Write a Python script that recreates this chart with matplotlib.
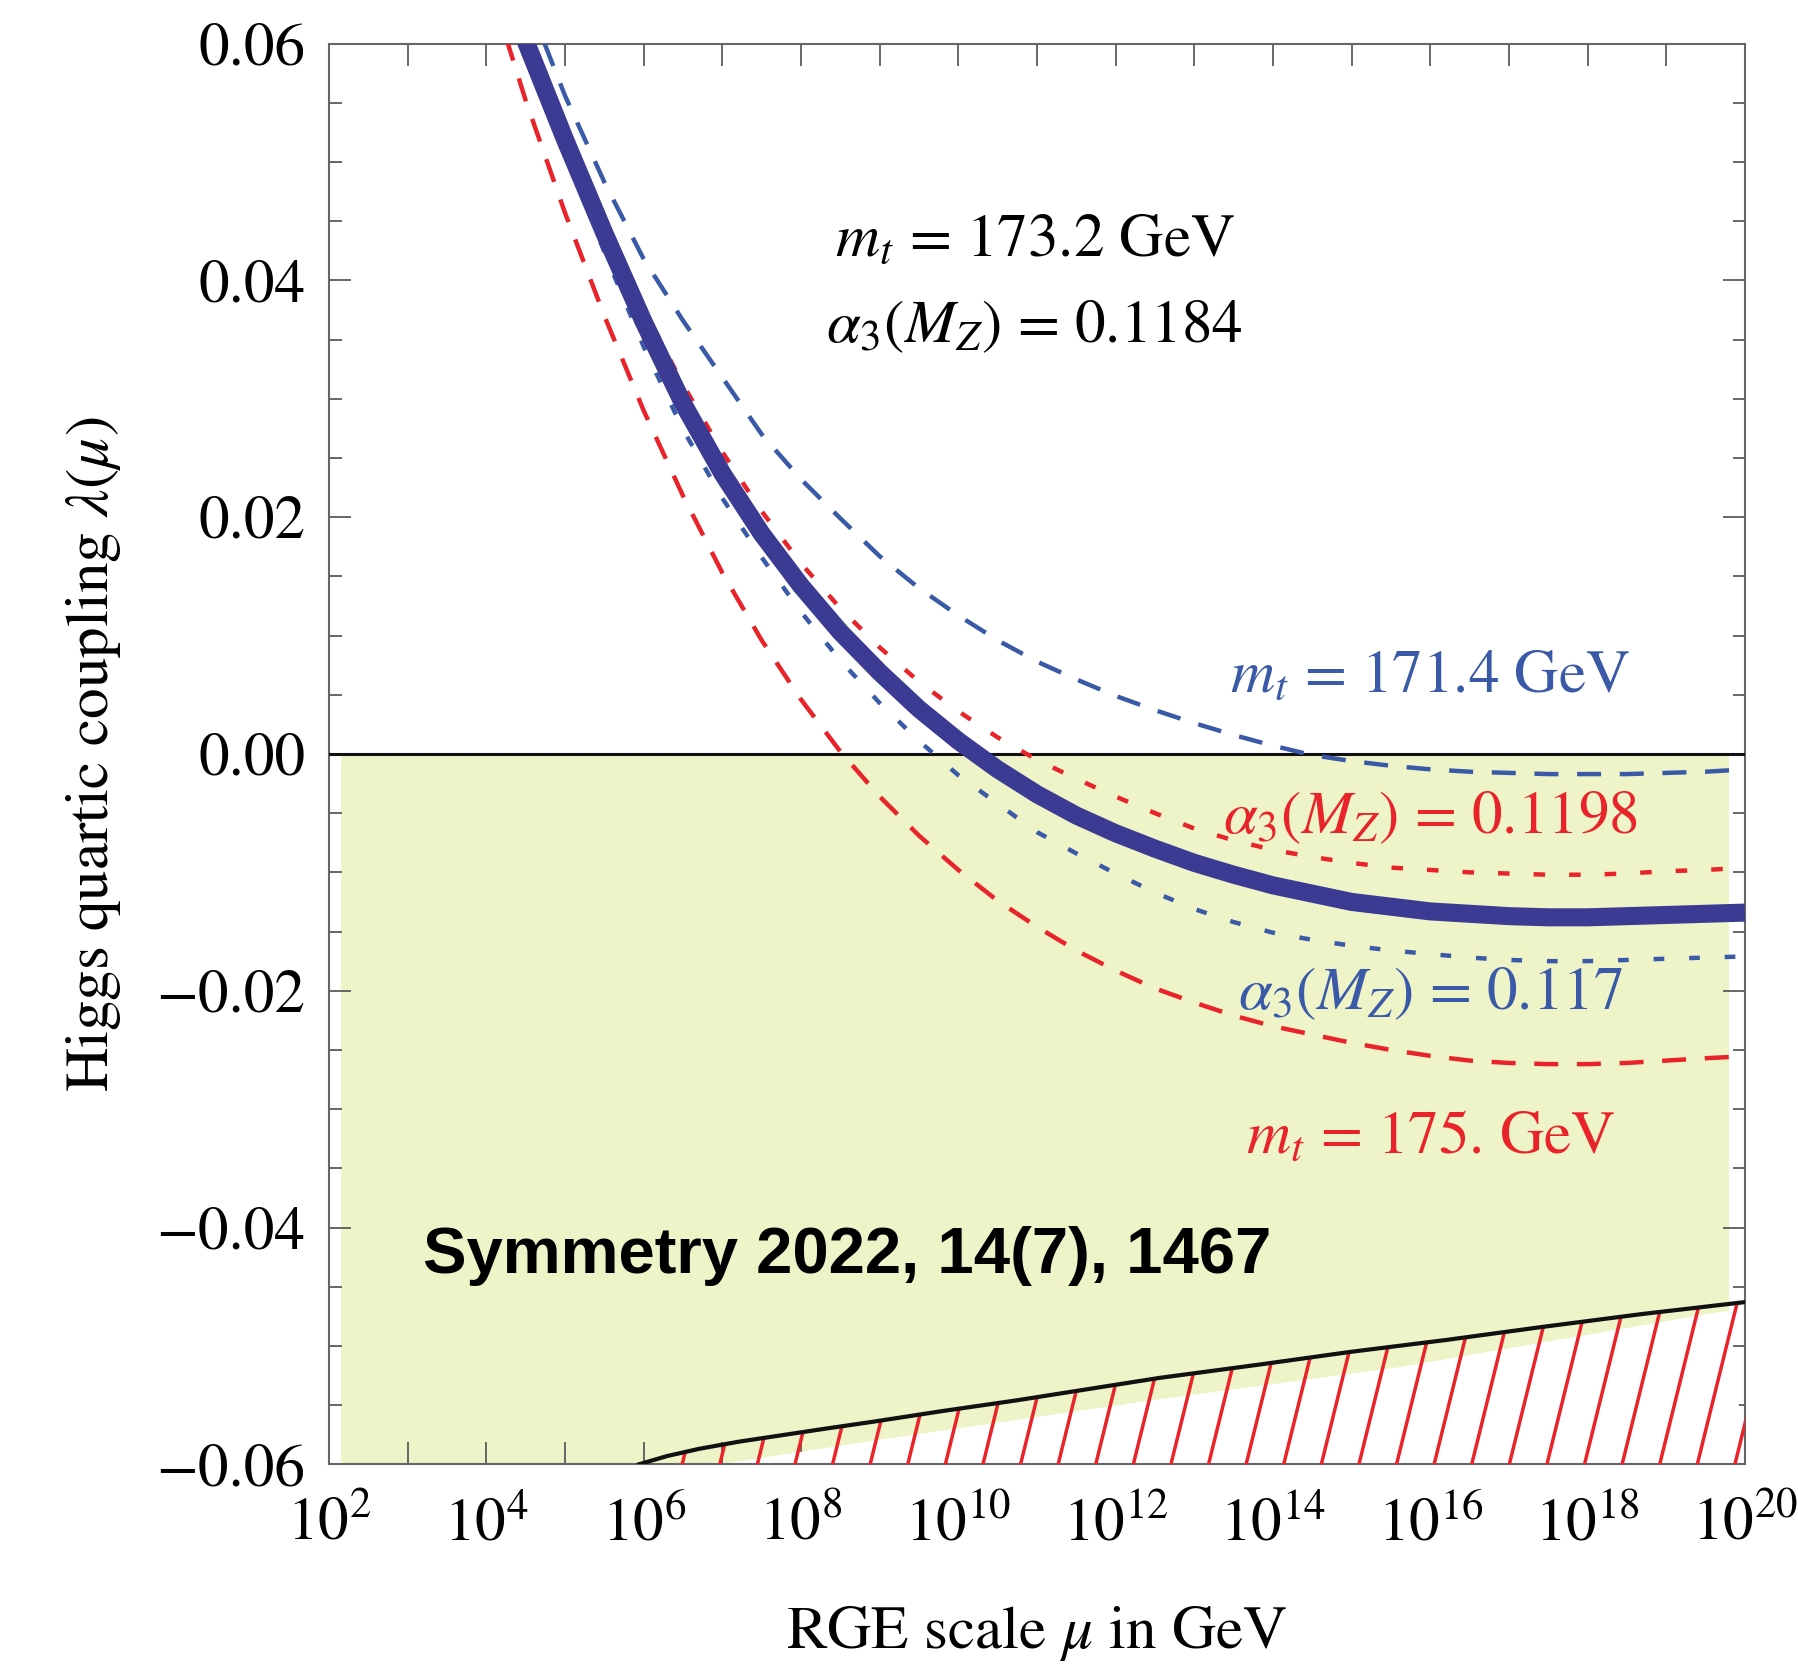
import numpy as np
import matplotlib
matplotlib.use('Agg')
import matplotlib.pyplot as plt
from matplotlib.patches import Polygon
from matplotlib.collections import LineCollection
from matplotlib.ticker import FixedLocator, FixedFormatter

plt.rcParams['font.family'] = ['STIXGeneral', 'DejaVu Serif']
plt.rcParams['mathtext.fontset'] = 'stix'

# lambda(mu) runs, x given as log10(mu / GeV)
central_logmu = [4.5, 5.0, 5.5, 6.0, 6.5, 7.0, 7.5, 8.0, 8.5, 9.0, 9.5, 10.0, 10.5, 11.0, 11.5, 12.0,
                 12.5, 13.0, 13.5, 14.0, 14.5, 15.0, 15.5, 16.0, 16.5, 17.0, 17.5, 18.0, 18.5, 19.0, 19.5, 20.0]
central_lam = [0.0602, 0.0519, 0.0440, 0.0365, 0.0296, 0.0237, 0.0186, 0.0142, 0.0103, 0.0069, 0.0038, 0.0011,
               -0.0013, -0.0034, -0.0052, -0.0067, -0.0080, -0.0092, -0.0102, -0.0111, -0.0118, -0.0125,
               -0.0129, -0.0133, -0.0135, -0.0137, -0.0138, -0.0138, -0.0137, -0.0136, -0.0135, -0.0134]

mt_low_logmu = [4.74, 5.0, 5.5, 6.0, 6.5, 7.0, 7.5, 8.0, 8.5, 9.0, 9.5, 10.0, 10.5, 11.0, 11.5, 12.0, 12.5,
                13.0, 13.5, 14.0, 14.5, 15.0, 15.5, 16.0, 16.5, 17.0, 17.5, 18.0, 18.5, 19.0, 19.5, 20.0]
mt_low_lam = [0.0600, 0.0556, 0.0483, 0.0418, 0.0366, 0.0318, 0.0270, 0.0232, 0.0199, 0.0167, 0.0140, 0.0117,
              0.0096, 0.0078, 0.0063, 0.0049, 0.0037, 0.0026, 0.0016, 0.0007, -0.0001, -0.0006, -0.0010,
              -0.0013, -0.0015, -0.0016, -0.0017, -0.0017, -0.0017, -0.0016, -0.0015, -0.0013]

mt_high_logmu = [4.25, 4.5, 5.0, 5.5, 6.0, 6.5, 7.0, 7.5, 8.0, 8.5, 9.0, 9.5, 10.0, 10.5, 11.0, 11.5, 12.0,
                 12.5, 13.0, 13.5, 14.0, 14.5, 15.0, 15.5, 16.0, 16.5, 17.0, 17.5, 18.0, 18.5, 19.0, 19.5, 19.8]
mt_high_lam = [0.0605, 0.0552, 0.0457, 0.0370, 0.0290, 0.0218, 0.0153, 0.0096, 0.0046, 0.0002, -0.0036,
               -0.0069, -0.0098, -0.0124, -0.0146, -0.0166, -0.0183, -0.0198, -0.0210, -0.0221, -0.0230,
               -0.0237, -0.0244, -0.0250, -0.0255, -0.0259, -0.0261, -0.0262, -0.0262, -0.0261, -0.0259,
               -0.0257, -0.0256]

as_high_logmu = [4.5, 5.0, 5.5, 6.0, 6.5, 7.0, 7.5, 8.0, 8.5, 9.0, 9.5, 10.0, 10.5, 11.0, 11.5, 12.0, 12.5,
                 13.0, 13.5, 14.0, 14.5, 15.0, 15.5, 16.0, 16.5, 17.0, 17.5, 18.0, 18.5, 19.0, 19.5, 20.0]
as_high_lam = [0.0607, 0.0524, 0.0447, 0.0376, 0.0312, 0.0255, 0.0205, 0.0161, 0.0123, 0.0090, 0.0061, 0.0036,
               0.0014, -0.0005, -0.0021, -0.0036, -0.0050, -0.0063, -0.0073, -0.0081, -0.0087, -0.0092,
               -0.0096, -0.0098, -0.0100, -0.0101, -0.0102, -0.0102, -0.0101, -0.0099, -0.0098, -0.0096]

as_low_logmu = [4.45, 5.0, 5.5, 6.0, 6.5, 7.0, 7.5, 8.0, 8.5, 9.0, 9.5, 10.0, 10.5, 11.0, 11.5, 12.0, 12.5,
                13.0, 13.5, 14.0, 14.5, 15.0, 15.5, 16.0, 16.5, 17.0, 17.5, 18.0, 18.5, 19.0, 19.5, 20.0]
as_low_lam = [0.0600, 0.0509, 0.0424, 0.0344, 0.0274, 0.0216, 0.0166, 0.0120, 0.0079, 0.0043, 0.0011, -0.0018,
              -0.0042, -0.0066, -0.0084, -0.0101, -0.0117, -0.0131, -0.0142, -0.0151, -0.0157, -0.0162,
              -0.0166, -0.0169, -0.0172, -0.0174, -0.0175, -0.0175, -0.0174, -0.0173, -0.0172, -0.0171]

# metastability bound and edge of the shaded band below it
bound_logmu = [5.94, 6.3, 6.7, 7.2, 7.70, 8.3, 8.92, 9.8, 10.74, 11.6, 12.56, 13.8, 14.99, 16.2, 17.42, 18.7, 20.0]
bound_lam = [-0.0600, -0.0593, -0.0587, -0.0581, -0.0576, -0.0570, -0.0564, -0.0555, -0.0546, -0.0537,
             -0.0527, -0.0516, -0.0505, -0.0495, -0.0484, -0.0473, -0.0463]
band_logmu = [6.97, 8.92, 12.56, 15.6, 19.8]
band_lam = [-0.0600, -0.0580, -0.0545, -0.0518, -0.0470]

shade_logmu = [2.15, 19.8]

ytick_vals = [-0.06, -0.04, -0.02, 0.0, 0.02, 0.04, 0.06]
ytick_labels = ['\u22120.06', '\u22120.04', '\u22120.02', '0.00', '0.02', '0.04', '0.06']
xtick_exps = list(range(2, 21))

blue_dark = '#3b3b93'
blue = '#3a5aa8'
red = '#e8232a'
shade = '#eef3c8'

def mu(l):
    return 10.0 ** np.asarray(l, dtype=float)

fig = plt.figure(figsize=(17.98, 16.71), dpi=100)
ax = fig.add_axes([0.1830, 0.1237, 0.9705 - 0.1830, 0.9739 - 0.1237])
ax.set_xscale('log')
ax.set_xlim(1e2, 1e20)
ax.set_ylim(-0.06, 0.06)

# unstable region shading
ax.fill_between(mu(shade_logmu), [0, 0], [-0.06, -0.06], color=shade, lw=0, zorder=1)
white = Polygon(np.column_stack([mu(band_logmu + [20.0, band_logmu[0]]),
                                 band_lam + [-0.06, -0.06]]),
                closed=True, facecolor='white', edgecolor='none', zorder=2)
ax.add_patch(white)

# red hatching under the bound
clip = Polygon(np.column_stack([mu(bound_logmu + [20.0, bound_logmu[0]]),
                                bound_lam + [-0.06, -0.06]]),
               closed=True, facecolor='none', edgecolor='none',
               transform=ax.transData)
ax.add_patch(clip)
step = 37.6 / 1416.0
dx = 40.0 / 1416.0
dy = 162.0 / 1420.7
starts = 0.2494 + step * np.arange(-12, 30)
segs = [[(s, 0.0), (s + dx / dy * 1.05, 1.05)] for s in starts]
hatch = LineCollection(segs, colors=red, linewidths=2.5, transform=ax.transAxes, zorder=3)
hatch.set_clip_path(clip)
ax.add_collection(hatch)

ax.plot(mu(bound_logmu), bound_lam, color='#111111', lw=3.0, zorder=4)
ax.axhline(0.0, color='#111111', lw=2.2, zorder=4)

# RG curves
ax.plot(mu(mt_low_logmu), mt_low_lam, color=blue, lw=3.2, dashes=(5.4, 4.2), zorder=5)
ax.plot(mu(mt_high_logmu), mt_high_lam, color=red, lw=3.2, dashes=(5.4, 4.2), zorder=5)
ax.plot(mu(as_low_logmu), as_low_lam, color=blue, lw=3.2, dashes=(2.4, 5.6), zorder=5)
ax.plot(mu(as_high_logmu), as_high_lam, color=red, lw=3.2, dashes=(2.6, 5.4), zorder=5)
ax.plot(mu(central_logmu), central_lam, color=blue_dark, lw=13, solid_capstyle='butt',
        solid_joinstyle='round', zorder=6)

fs = 44
ax.text(10 ** 10.97, 0.0421, r'$m_t$ = 173.2 GeV', fontsize=fs, ha='center', va='baseline', zorder=7)
ax.text(10 ** 10.97, 0.0348, r'$\alpha_3(M_Z)$ = 0.1184', fontsize=fs, ha='center', va='baseline', zorder=7)
ax.text(10 ** 16.0, 0.0052, r'$m_t$ = 171.4 GeV', fontsize=fs, color=blue, ha='center', va='baseline', zorder=7)
ax.text(10 ** 16.0, -0.0067, r'$\alpha_3(M_Z)$ = 0.1198', fontsize=fs, color=red, ha='center', va='baseline', zorder=7)
ax.text(10 ** 16.0, -0.0216, r'$\alpha_3(M_Z)$ = 0.117', fontsize=fs, color=blue, ha='center', va='baseline', zorder=7)
ax.text(10 ** 16.0, -0.0337, r'$m_t$ = 175. GeV', fontsize=fs, color=red, ha='center', va='baseline', zorder=7)

ax.text(10 ** 3.2, -0.0438, 'Symmetry 2022, 14(7), 1467', fontsize=47, fontweight='bold',
        family=['Liberation Sans', 'DejaVu Sans'], ha='left', va='baseline', zorder=8)

# axes styling
for sp in ax.spines.values():
    sp.set_color('#666666')
    sp.set_linewidth(1.5)

ax.yaxis.set_major_locator(FixedLocator(ytick_vals))
ax.yaxis.set_major_formatter(FixedFormatter(ytick_labels))
ax.yaxis.set_minor_locator(FixedLocator(np.arange(-0.06, 0.0601, 0.005)))
ax.xaxis.set_major_locator(FixedLocator(mu(xtick_exps)))
ax.xaxis.set_major_formatter(FixedFormatter([r'$10^{%d}$' % e if e % 2 == 0 else '' for e in xtick_exps]))
ax.xaxis.set_minor_locator(FixedLocator([]))

ax.tick_params(which='both', direction='in', top=True, right=True, color='#666666', width=1.4)
ax.tick_params(axis='y', which='major', length=16, pad=17, labelsize=fs)
ax.tick_params(axis='y', which='minor', length=9)
ax.tick_params(axis='x', which='major', length=16, pad=24, labelsize=fs)

ax.set_xlabel(r'RGE scale $\mu$ in GeV', fontsize=fs, labelpad=36)
ax.set_ylabel(r'Higgs quartic coupling $\lambda(\mu)$', fontsize=fs, labelpad=24)

fig.savefig('out.png', dpi=100)
